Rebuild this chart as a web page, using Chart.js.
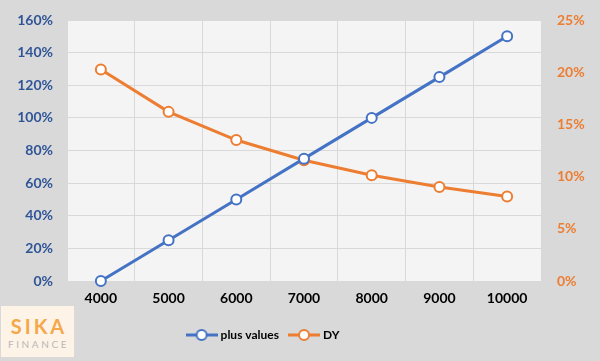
<!DOCTYPE html>
<html><head><meta charset="utf-8">
<script src="https://cdn.jsdelivr.net/npm/chart.js@4/dist/chart.umd.min.js"></script>
<style>
html,body{margin:0;padding:0;background:#d9d9d9;}
#wrap{position:relative;width:600px;height:361px;}
#logo{position:absolute;left:1px;top:306px;width:73px;height:51px;background:#fdf3e7;font-family:Lato,"Open Sans",sans-serif;text-align:center;}
#logo .s{color:#f5a84a;font-size:20px;font-weight:bold;letter-spacing:3px;line-height:20px;margin-top:10px;padding-left:3px;}
#logo .f{color:#b8b8b8;font-size:10px;letter-spacing:2.6px;line-height:12px;margin-top:2px;padding-left:2px;}
</style></head>
<body><div id="wrap"><canvas id="c" width="600" height="361"></canvas>
<div id="logo"><div class="s">SIKA</div><div class="f">FINANCE</div></div></div>
<script>
const categories = ['4000','5000','6000','7000','8000','9000','10000'];
const plusValues = [0, 25, 50, 75, 100, 125, 150];
const dyValues = [20.25, 16.2, 13.5, 11.57, 10.13, 9.0, 8.1];
const seriesNames = ['plus values', 'DY'];
const blue = '#4472c4', orange = '#ed7d31';

function icon(color){
  const c = document.createElement('canvas'); c.width = 32; c.height = 14;
  const x = c.getContext('2d');
  x.strokeStyle = color; x.lineWidth = 3;
  x.beginPath(); x.moveTo(0,7); x.lineTo(32,7); x.stroke();
  x.fillStyle = '#fff'; x.lineWidth = 2;
  x.beginPath(); x.arc(16,7,5,0,Math.PI*2); x.fill(); x.stroke();
  return c;
}
const icons = [icon(blue), icon(orange)];

const plotBg = {
  id:'plotBg',
  afterLayout(chart){
    if (chart.legend){ chart.legend.left -= 36; chart.legend.right -= 36; }
  },
  beforeDraw(chart){
    const {ctx, chartArea:a} = chart;
    ctx.save(); ctx.fillStyle = '#f4f4f4';
    ctx.fillRect(a.left, a.top, a.right-a.left, a.bottom-a.top); ctx.restore();
  }
};

new Chart(document.getElementById('c'), {
  type:'line',
  data:{
    labels: categories,
    datasets:[
      {label:seriesNames[0], data:plusValues, yAxisID:'y', borderColor:blue, backgroundColor:'#fff', clip:false,
       borderWidth:3, pointRadius:5, pointBorderWidth:2, pointBackgroundColor:'#fff', pointBorderColor:blue},
      {label:seriesNames[1], data:dyValues, yAxisID:'y1', borderColor:orange, backgroundColor:'#fff', clip:false,
       borderWidth:3, pointRadius:5, pointBorderWidth:2, pointBackgroundColor:'#fff', pointBorderColor:orange}
    ]
  },
  options:{
    responsive:false, animation:false,
    layout:{padding:{top:20, left:0, right:0, bottom:10}},
    scales:{
      x:{
        offset:true,
        grid:{color:'#d9d9d9', offset:true, drawTicks:false},
        border:{display:false},
        ticks:{color:'#000', font:{family:'Lato', size:14, weight:'bold'}, padding:9},
        afterFit(s){ s.height = 36; }
      },
      y:{
        position:'left', min:0, max:160,
        grid:{color:'#d9d9d9', drawTicks:false},
        border:{display:false},
        ticks:{stepSize:20, color:'#2f5597', font:{family:'Lato', size:14, weight:'bold'}, padding:14,
          callback:v=>v+'%'},
        afterFit(s){ s.width = 67; s.paddingTop = 0; s.paddingBottom = 0; }
      },
      y1:{
        position:'right', min:0, max:25,
        grid:{display:false, drawTicks:false},
        border:{display:false},
        ticks:{stepSize:5, color:orange, font:{family:'Lato', size:14, weight:'bold'}, padding:16,
          callback:v=>v+'%'},
        afterFit(s){ s.width = 59; s.paddingTop = 0; s.paddingBottom = 0; }
      }
    },
    plugins:{
      tooltip:{enabled:false},
      legend:{
        position:'bottom',
        labels:{
          usePointStyle:true, pointStyleWidth:26, boxHeight:14, padding:12,
          color:'#000', font:{family:'Lato', size:12, weight:'bold'},
          generateLabels(chart){
            const items = Chart.defaults.plugins.legend.labels.generateLabels(chart);
            items.forEach((it,i)=>{ it.pointStyle = icons[i]; });
            return items;
          }
        }
      }
    }
  },
  plugins:[plotBg]
});
</script></body></html>
